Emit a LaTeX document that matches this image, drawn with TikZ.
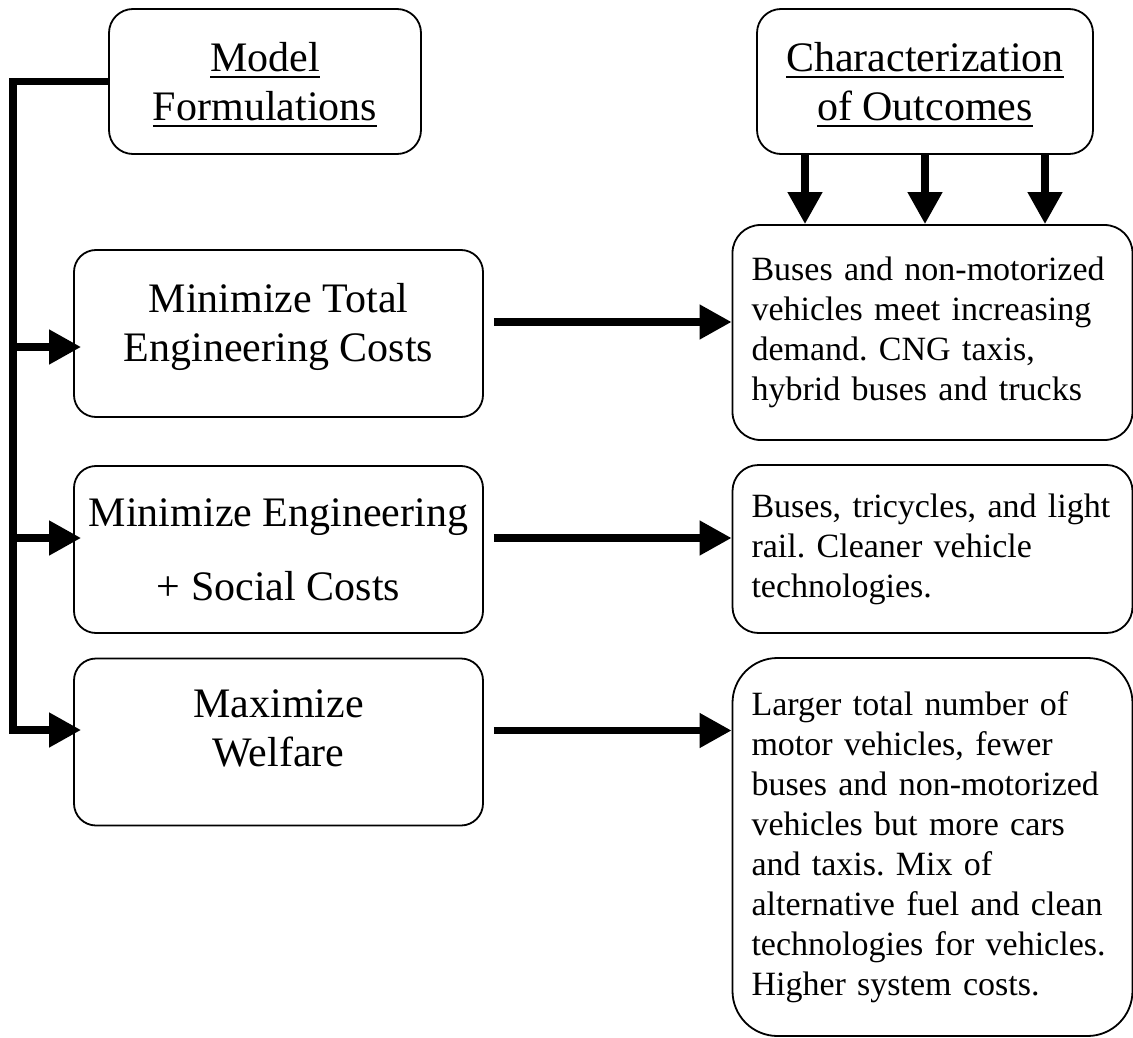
\documentclass[tikz,border=0pt]{standalone}
\usepackage{fontspec}
\setmainfont{Liberation Serif}
\usetikzlibrary{arrows.meta}
\frenchspacing

\newcommand{\bigfont}{\fontsize{42}{49}\selectfont}
\newcommand{\smallfont}{\fontsize{34}{40}\selectfont}
% underlined heading word
\newcommand{\headline}[1]{\leavevmode\vtop{\hbox{#1}\kern4.5pt\hrule height 1.8pt}}

\tikzset{
    headbox/.style={
        draw,
        line width=1.8pt,
        rounded corners=24pt,
        minimum height=145pt,
        inner sep=4pt,
        text depth=0pt,
        align=center,
        font=\bigfont
    },
    formbox/.style={
        draw,
        line width=1.8pt,
        rounded corners=22pt,
        minimum width=409pt,
        minimum height=167pt,
        inner sep=4pt,
        align=center,
        font=\bigfont
    },
    resultbox/.style={
        draw,
        line width=1.8pt,
        rounded corners=26pt,
        text width=362pt,
        inner xsep=19pt,
        inner ysep=4pt,
        align=left,
        font=\smallfont
    },
    flow/.style={
        line width=7.5pt,
        -{Triangle[length=32pt, width=33pt]}
    }
}

\begin{document}
\begin{tikzpicture}[x=1pt, y=-1pt]
  \useasboundingbox (0,0) rectangle (1133,1038);

  % Headings
  \node[headbox, minimum width=312pt] (model) at (265,81.5) {\headline{Model}\\\headline{Formulations}};
  \node[headbox, minimum width=336pt] (chars) at (925,81.5) {\headline{Characterization}\\\headline{of Outcomes}};

  % Model formulations
  \node[formbox, text depth=23pt] (mintotal) at (278.5,333.5) {Minimize Total\\Engineering Costs};
  \node[formbox] (minsocial) at (278.5,549.5) {Minimize Engineering\\[25pt]+ Social Costs};
  \node[formbox, text depth=28pt] (maxwelfare) at (278.5,742) {Maximize\\Welfare};

  % Outcomes
  \node[resultbox, minimum height=215pt, rounded corners=28pt] (res1) at (932.5,332.5)
    {Buses and non-motorized\\vehicles meet increasing\\demand. CNG taxis,\\hybrid buses and trucks};
  \node[resultbox, minimum height=168pt] (res2) at (932.5,549)
    {Buses, tricycles, and light\\rail. Cleaner vehicle\\technologies.};
  \node[resultbox, minimum height=378pt, rounded corners=45pt] (res3) at (932.5,847)
    {Larger total number of\\motor vehicles, fewer\\buses and non-motorized\\vehicles but more cars\\and taxis. Mix of\\alternative fuel and clean\\technologies for vehicles.\\Higher system costs.};

  % Feed line down the left side
  \coordinate (j1) at (13,347);
  \coordinate (j2) at (13,538);
  \coordinate (j3) at (13,730);
  \draw[flow, shorten >=-8pt] (model.west) -| (j3) -- (maxwelfare.west |- j3);
  \draw[flow, shorten >=-8pt] (j1) -- (mintotal.west |- j1);
  \draw[flow, shorten >=-8pt] (j2) -- (minsocial.west |- j2);

  % Formulation to outcome
  \foreach \a/\b in {mintotal/res1, minsocial/res2, maxwelfare/res3}
    \draw[flow, shorten <=10pt] ([yshift=11.5pt]\a.east) -- ([yshift=11.5pt]\a.east -| \b.west);

  % Heading down to first outcome
  \foreach \dx in {-120,0,120}
    \draw[flow] ([xshift=\dx pt]chars.south) -- ([xshift=\dx pt]chars.south |- res1.north);
\end{tikzpicture}
\end{document}
